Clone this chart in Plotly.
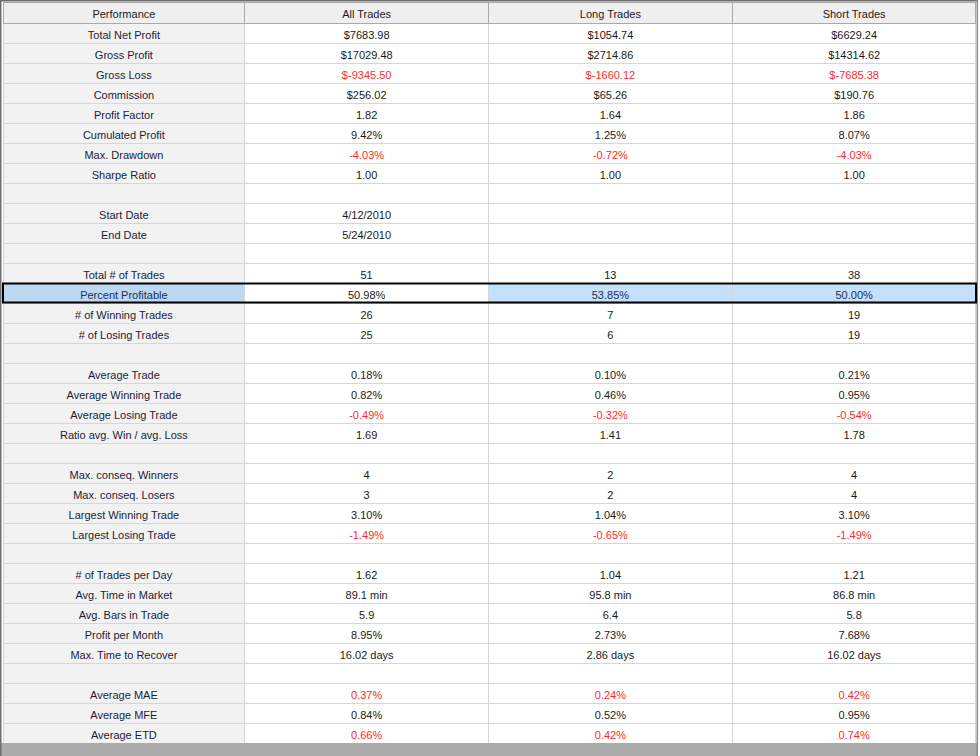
# performance summary grid, rebuilt as a plotly table

import plotly.graph_objects as go

W, H = 980, 756

header = ["Performance", "All Trades", "Long Trades", "Short Trades"]

labels = [
    "Total Net Profit", "Gross Profit", "Gross Loss", "Commission", "Profit Factor",
    "Cumulated Profit", "Max. Drawdown", "Sharpe Ratio", "",
    "Start Date", "End Date", "",
    "Total # of Trades", "Percent Profitable", "# of Winning Trades", "# of Losing Trades", "",
    "Average Trade", "Average Winning Trade", "Average Losing Trade", "Ratio avg. Win / avg. Loss", "",
    "Max. conseq. Winners", "Max. conseq. Losers", "Largest Winning Trade", "Largest Losing Trade", "",
    "# of Trades per Day", "Avg. Time in Market", "Avg. Bars in Trade", "Profit per Month",
    "Max. Time to Recover", "",
    "Average MAE", "Average MFE", "Average ETD",
]

all_trades = [
    "$7683.98", "$17029.48", "$-9345.50", "$256.02", "1.82",
    "9.42%", "-4.03%", "1.00", "",
    "4/12/2010", "5/24/2010", "",
    "51", "50.98%", "26", "25", "",
    "0.18%", "0.82%", "-0.49%", "1.69", "",
    "4", "3", "3.10%", "-1.49%", "",
    "1.62", "89.1 min", "5.9", "8.95%", "16.02 days", "",
    "0.37%", "0.84%", "0.66%",
]

long_trades = [
    "$1054.74", "$2714.86", "$-1660.12", "$65.26", "1.64",
    "1.25%", "-0.72%", "1.00", "",
    "", "", "",
    "13", "53.85%", "7", "6", "",
    "0.10%", "0.46%", "-0.32%", "1.41", "",
    "2", "2", "1.04%", "-0.65%", "",
    "1.04", "95.8 min", "6.4", "2.73%", "2.86 days", "",
    "0.24%", "0.52%", "0.42%",
]

short_trades = [
    "$6629.24", "$14314.62", "$-7685.38", "$190.76", "1.86",
    "8.07%", "-4.03%", "1.00", "",
    "", "", "",
    "38", "50.00%", "19", "19", "",
    "0.21%", "0.95%", "-0.54%", "1.78", "",
    "4", "4", "3.10%", "-1.49%", "",
    "1.21", "86.8 min", "5.8", "7.68%", "16.02 days", "",
    "0.42%", "0.95%", "0.74%",
]

red_rows = ["Gross Loss", "Max. Drawdown", "Average Losing Trade",
            "Largest Losing Trade", "Average MAE", "Average ETD"]
selected_row = "Percent Profitable"

RED = "#ff2a2a"
INK = "#1a1a1a"
LABEL_INK = "#1c1c38"
SEL_INK = "#1c2f55"

n = len(labels)
sel = labels.index(selected_row)

label_fill = ["#bcd8f2" if i == sel else "#f2f2f2" for i in range(n)]
val_fill = ["#ffffff"] * n
val_fill_sel = ["#c4e0fc" if i == sel else "#ffffff" for i in range(n)]

label_color = [SEL_INK if i == sel else LABEL_INK for i in range(n)]
val_color = [RED if labels[i] in red_rows else INK for i in range(n)]
val_color_sel = [SEL_INK if i == sel else c for i, c in enumerate(val_color)]

# table sits between the window frame and the grey strip at the bottom
x0, x1 = 3, 977
y0, y1 = 2, 743

fig = go.Figure(go.Table(
    domain=dict(x=[x0 / W, x1 / W], y=[1 - y1 / H, 1 - y0 / H]),
    columnwidth=[242, 244, 244, 244],
    header=dict(
        values=header,
        fill_color="#efefef",
        line=dict(color="#a9a9a9", width=1),
        font=dict(family="Liberation Sans, Arial, sans-serif", size=11, color=INK),
        align="center",
        height=21,
    ),
    cells=dict(
        values=[labels, all_trades, long_trades, short_trades],
        fill_color=[label_fill, val_fill, val_fill_sel, val_fill_sel],
        line=dict(color="#d6d6d6", width=1),
        font=dict(family="Liberation Sans, Arial, sans-serif", size=11,
                  color=[label_color, val_color, val_color_sel, val_color_sel]),
        align="center",
        height=20,
    ),
))

def px_rect(xa, ya, xb, yb, **kw):
    return dict(type="rect", xref="paper", yref="paper",
                x0=xa / W, x1=xb / W, y0=1 - yb / H, y1=1 - ya / H, **kw)

shapes = [
    # grey strip under the grid
    px_rect(1, 743, 977, H, fillcolor="#ababab", line=dict(width=0), layer="below"),
    # window frame
    px_rect(0, 0, 1.5, H, fillcolor="#6e6e6e", line=dict(width=0)),
    px_rect(0, 0, 978, 1.5, fillcolor="#6e6e6e", line=dict(width=0)),
    px_rect(976.5, 0, 978, H, fillcolor="#8a8a8a", line=dict(width=0)),
    # selected row outline
    px_rect(3, 23 + 20 * sel + 0.5, 976, 23 + 20 * (sel + 1) - 0.5,
            line=dict(color="#000000", width=2)),
]

fig.update_layout(
    width=W, height=H,
    margin=dict(l=0, r=0, t=0, b=0),
    paper_bgcolor="#ffffff",
    shapes=shapes,
)

# page body has a default 8px margin, drop it so the grid starts at the corner
fig.write_html("out.html",
               config={"displayModeBar": False},
               post_script="document.body.style.margin='0';document.body.style.overflow='hidden';")
